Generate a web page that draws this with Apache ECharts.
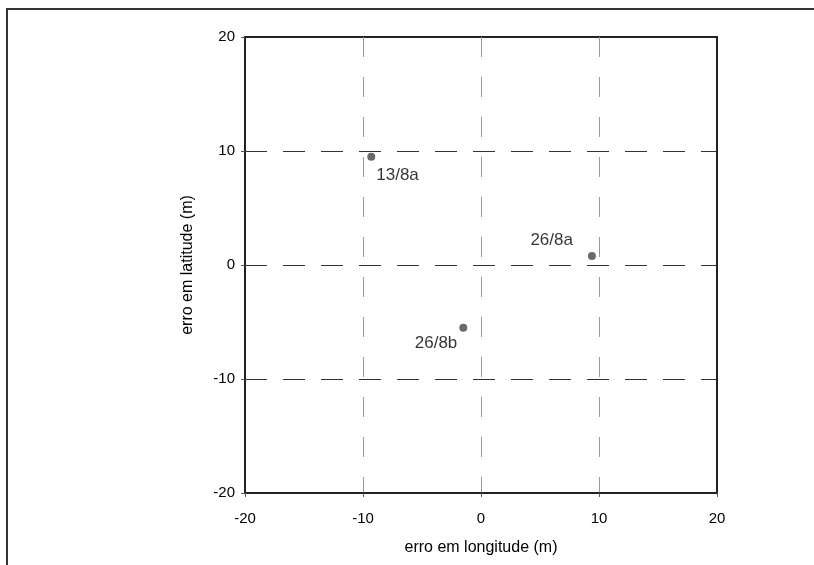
<!DOCTYPE html>
<html>
<head>
<meta charset="utf-8">
<script src="https://cdn.jsdelivr.net/npm/echarts@6/dist/echarts.min.js"></script>
<style>
  html, body { margin: 0; padding: 0; background: #fff; }
  #frame { position: absolute; left: 6px; top: 8px; width: 808px; height: 557px;
           border-top: 2px solid #333; border-left: 2px solid #333; }
  #chart { position: absolute; left: 0; top: 0; width: 814px; height: 565px; }
</style>
</head>
<body>
<div id="frame"></div>
<div id="chart"></div>
<script>
// pontos e erros (m)
let pointNames = ['13/8a', '26/8a', '26/8b']
let lonErr = [-9.3, 9.4, -1.5]
let latErr = [9.5, 0.8, -5.5]
let axisTicks = [-20, -10, 0, 10, 20]

// posição de cada rótulo relativamente ao ponto
let labelPos = [
  { position: 'right', offset: [-4, 19] },
  { position: 'left', offset: [-10, -16] },
  { position: 'left', offset: [3, 16] }
]

let chart = echarts.init(document.getElementById('chart'))
let font = 'Liberation Sans, Arial, sans-serif'

let points = pointNames.map((name, i) => ({
  name: name,
  value: [lonErr[i], latErr[i]],
  label: Object.assign({
    show: true,
    formatter: '{b}',
    color: '#000',
    fontSize: 17,
    fontFamily: font
  }, labelPos[i])
}))

let option = {
  animation: false,
  grid: {
    left: 245, right: 97, top: 37, bottom: 72,
    show: true, borderColor: '#222', borderWidth: 2,
    containLabel: false
  },
  xAxis: {
    type: 'value',
    min: axisTicks[0], max: axisTicks[axisTicks.length - 1], interval: 10,
    name: 'erro em longitude (m)',
    nameLocation: 'middle', nameGap: 47,
    nameTextStyle: { color: '#000', fontSize: 16, fontFamily: font },
    axisLine: { show: true, onZero: false, lineStyle: { color: '#222', width: 2 } },
    axisTick: { show: true, length: 4, lineStyle: { color: '#555' } },
    axisLabel: { color: '#000', fontSize: 15, fontFamily: font, margin: 18 },
    splitLine: { show: true, showMinLine: false, showMaxLine: false,
                 lineStyle: { color: '#999', width: 1, type: [20, 20] } }
  },
  yAxis: {
    type: 'value',
    min: axisTicks[0], max: axisTicks[axisTicks.length - 1], interval: 10,
    name: 'erro em latitude (m)',
    nameLocation: 'middle', nameGap: 49,
    nameTextStyle: { color: '#000', fontSize: 16, fontFamily: font },
    axisLine: { show: true, onZero: false, lineStyle: { color: '#222', width: 2 } },
    axisTick: { show: true, length: 4, lineStyle: { color: '#555' } },
    axisLabel: { color: '#000', fontSize: 15, fontFamily: font, margin: 10 },
    splitLine: { show: true, showMinLine: false, showMaxLine: false,
                 lineStyle: { color: '#333', width: 1, type: [22, 16] } }
  },
  series: [{
    type: 'scatter',
    symbolSize: 8,
    itemStyle: { color: '#444' },
    data: points
  }]
}
chart.setOption(option)
</script>
</body>
</html>
